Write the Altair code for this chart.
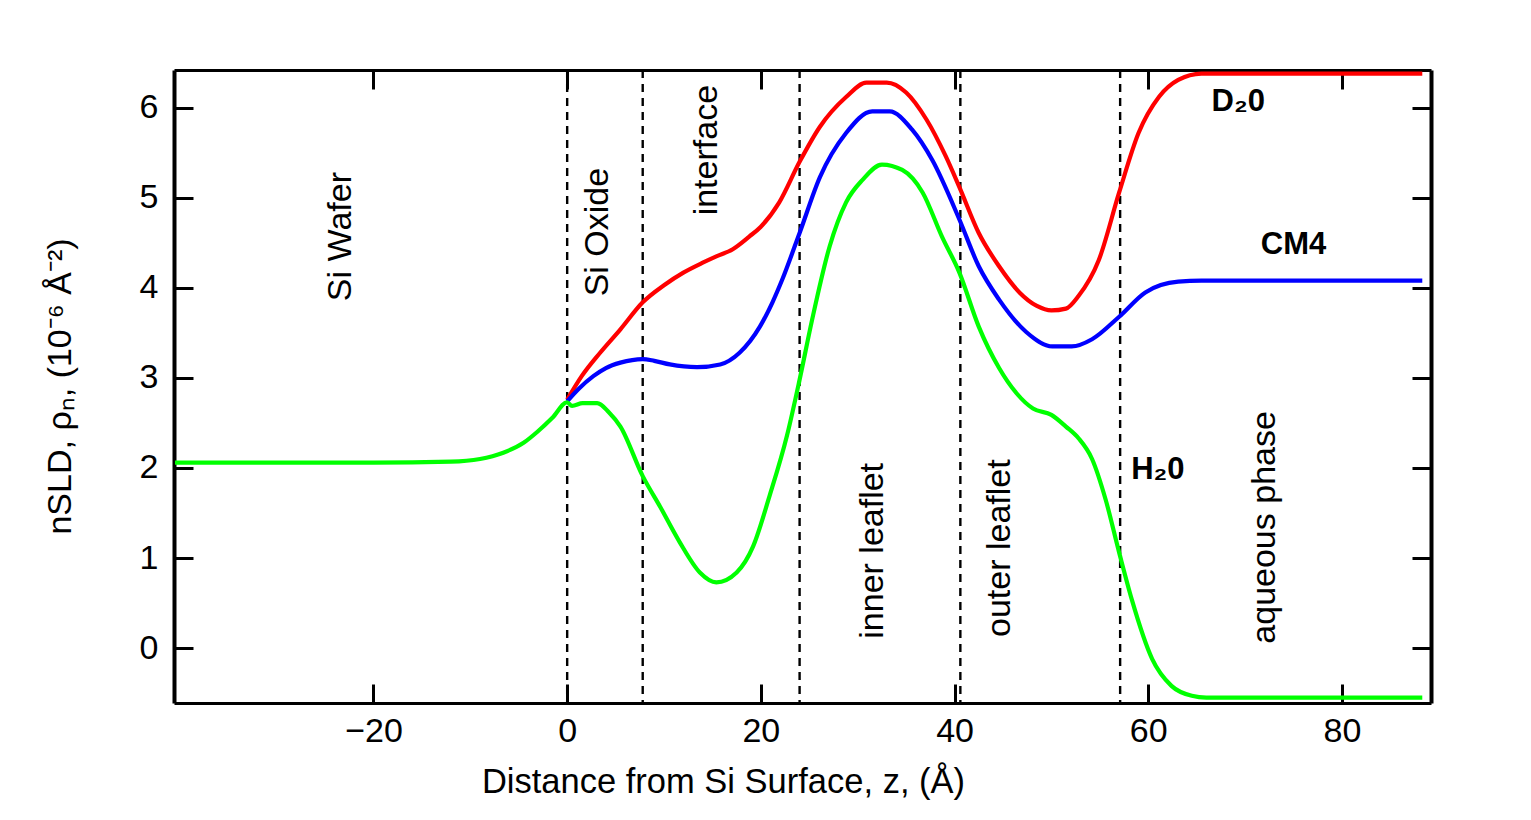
import altair as alt
import pandas as pd

# ---- data ----
z_h2o = [-40.5, -30, -20, -12, -9, -6.6, -4.5, -3.1, -1.5, 0, 0.5, 1.6, 3.1, 4.3, 5.5,
         7.8, 9.6, 11.6, 13.7, 15.4, 17.5, 19.2, 20.9, 22.7, 24.0, 25.3, 27.1, 28.8,
         30.5, 32.5, 34.6, 36.7, 38.7, 40.5, 42.5, 44.6, 46.4, 48.1, 50.0, 51.5, 52.8,
         54.2, 55.6, 57.0, 58.3, 60.4, 62.4, 64.5, 66.0, 88.3]
v_h2o = [2.06, 2.06, 2.06, 2.07, 2.10, 2.17, 2.28, 2.40, 2.56, 2.73, 2.69, 2.72, 2.72,
         2.62, 2.46, 1.91, 1.57, 1.18, 0.84, 0.73, 0.84, 1.13, 1.69, 2.36, 2.98, 3.65,
         4.46, 4.95, 5.20, 5.37, 5.31, 5.06, 4.57, 4.17, 3.57, 3.11, 2.83, 2.66, 2.59,
         2.46, 2.33, 2.10, 1.65, 1.06, 0.54, -0.12, -0.42, -0.53, -0.55, -0.55]

z_d2o = [0, 1.5, 3.4, 5.5, 7.8, 10.0, 12.0, 14.0, 15.4, 17.1, 18.8, 20.0, 21.9, 24.0,
         26.1, 28.8, 30.9, 33.0, 35.0, 37.1, 39.1, 40.5, 42.5, 44.6, 46.7, 48.5, 50.0,
         51.5, 52.8, 54.9, 57.0, 59.0, 61.1, 63.1, 65.5, 88.3]
v_d2o = [2.76, 3.02, 3.28, 3.54, 3.84, 4.03, 4.17, 4.28, 4.35, 4.43, 4.57, 4.68, 4.95,
         5.40, 5.79, 6.12, 6.28, 6.28, 6.17, 5.87, 5.46, 5.12, 4.61, 4.24, 3.95, 3.80,
         3.75, 3.77, 3.91, 4.31, 5.06, 5.72, 6.12, 6.31, 6.38, 6.38]

z_cm4 = [0, 1.2, 2.7, 4.0, 5.5, 7.8, 9.0, 10.6, 13.4, 15.8, 17.8, 19.9, 21.2, 22.2,
         24.0, 26.1, 28.8, 31.5, 33.3, 35.6, 37.7, 40.5, 42.5, 44.6, 47.4, 50.1, 52.1,
         54.2, 57.0, 59.7, 63.1, 65.5, 88.3]
v_cm4 = [2.74, 2.88, 3.02, 3.11, 3.17, 3.21, 3.19, 3.15, 3.12, 3.15, 3.28, 3.57, 3.84,
         4.09, 4.61, 5.23, 5.72, 5.96, 5.96, 5.76, 5.42, 4.76, 4.24, 3.87, 3.51, 3.35,
         3.35, 3.43, 3.68, 3.95, 4.07, 4.08, 4.08]

region_bounds = [0, 7.8, 24.0, 40.6, 57.1]

region_labels = ["Si Wafer", "Si Oxide", "interface", "inner leaflet",
                 "outer leaflet", "aqueous phase"]
region_z = [-23.4, 3.2, 14.45, 31.6, 44.7, 72.05]
region_v = [4.57, 4.62, 5.53, 1.08, 1.11, 1.34]

solvent_labels = ["D\u20820", "CM4", "H\u20820"]
solvent_z = [69.3, 75.0, 61.0]
solvent_v = [6.06, 4.48, 1.98]

x_ticks = [-20, 0, 20, 40, 60, 80]
y_ticks = [0, 1, 2, 3, 4, 5, 6]

FONT = "Liberation Sans"

df_h2o = pd.DataFrame({"z": z_h2o, "v": v_h2o})
df_d2o = pd.DataFrame({"z": z_d2o, "v": v_d2o})
df_cm4 = pd.DataFrame({"z": z_cm4, "v": v_cm4})
df_bounds = pd.DataFrame({"z": region_bounds})
df_regions = pd.DataFrame({"label": region_labels, "z": region_z, "v": region_v})
df_solv = pd.DataFrame({"label": solvent_labels, "z": solvent_z, "v": solvent_v})

xscale = alt.Scale(domain=[-40.6, 89.2], nice=False, zero=False)
yscale = alt.Scale(domain=[-0.61, 6.42], nice=False, zero=False)

tick_grid = dict(grid=True, gridColor="black", gridWidth=3, gridOpacity=1,
                 gridDash=[19, 4000], ticks=False, domainColor="black")

x_bottom = alt.Axis(orient="bottom", values=x_ticks, title="Distance from Si Surface, z, (\u00c5)",
                    labelFontSize=34, labelPadding=11, labelColor="black", labelFont=FONT,
                    titleFontSize=34.5, titleFont=FONT, titleFontWeight="normal", titleColor="black",
                    titleX=549, titleY=89, titleBaseline="alphabetic", titleAlign="center",
                    domainWidth=3, **tick_grid)
y_left = alt.Axis(orient="left", values=y_ticks,
                  title="nSLD, \u03c1\u2099, (10\u207b\u2076 \u00c5\u207b\u00b2)",
                  labelFontSize=34, labelPadding=16, labelColor="black", labelFont=FONT,
                  titleFontSize=34, titleFont=FONT, titleFontWeight="normal", titleColor="black",
                  titleAngle=270, titleX=-104, titleY=316, titleBaseline="alphabetic",
                  titleAlign="center", domainWidth=4, **tick_grid)
x_top = alt.Axis(orient="top", values=x_ticks, labels=False, title=None, domainWidth=3, **tick_grid)
y_right = alt.Axis(orient="right", values=y_ticks, labels=False, title=None, domainWidth=4, **tick_grid)


def curve(df, color, xa=None, ya=None):
    return alt.Chart(df).mark_line(color=color, strokeWidth=4.2, interpolate="monotone").encode(
        x=alt.X("z:Q", scale=xscale, axis=xa),
        y=alt.Y("v:Q", scale=yscale, axis=ya),
    )


red = curve(df_d2o, "#ff0000", x_bottom, y_left)
blue = curve(df_cm4, "#0000ff")
green = curve(df_h2o, "#00ff00")

frame = alt.Chart(df_h2o).mark_point(opacity=0).encode(
    x=alt.X("z:Q", scale=xscale, axis=x_top),
    y=alt.Y("v:Q", scale=yscale, axis=y_right),
)

rules = alt.Chart(df_bounds).mark_rule(color="black", strokeWidth=2.4, strokeDash=[8, 6]).encode(
    x=alt.X("z:Q", scale=xscale, axis=None)
)

region_text = alt.Chart(df_regions).mark_text(
    angle=270, font=FONT, fontSize=34, color="black", align="center", baseline="middle"
).encode(
    x=alt.X("z:Q", scale=xscale, axis=None),
    y=alt.Y("v:Q", scale=yscale, axis=None),
    text="label:N",
)

solvent_text = alt.Chart(df_solv).mark_text(
    font=FONT, fontSize=31, fontWeight="bold", color="black", align="center", baseline="middle"
).encode(
    x=alt.X("z:Q", scale=xscale, axis=None),
    y=alt.Y("v:Q", scale=yscale, axis=None),
    text="label:N",
)

chart = alt.layer(
    frame, rules, red, blue, green, region_text, solvent_text
).resolve_axis(x="independent", y="independent").properties(
    width=1257, height=633,
    autosize=alt.AutoSizeParams(type="none"),
    padding={"left": 166, "top": 62, "right": 60, "bottom": 100},
    background="white",
).configure_view(stroke="transparent")

chart.save("out.html", embed_options={"renderer": "svg", "actions": False})
